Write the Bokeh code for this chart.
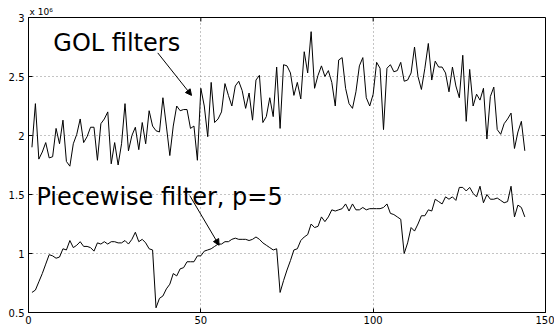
import math
from bokeh.plotting import figure
from bokeh.models import (Range1d, FixedTicker, Label, Arrow, NormalHead,
                          CustomJSTickFormatter)
from bokeh.embed import file_html
from bokeh.resources import INLINE

# ---------------- data (values in units of 10^6) ----------------
x_idx = list(range(1, 145))

gol_filters = [
    1.90, 2.27, 1.80, 1.86, 1.94, 1.81, 1.82, 2.06, 1.93, 2.13,
    1.78, 1.74, 1.93, 2.01, 2.14, 1.94, 1.99, 2.07, 2.07, 1.79,
    2.10, 2.14, 2.20, 1.76, 1.94, 1.75, 1.93, 2.27, 1.87, 2.00,
    2.07, 1.88, 2.11, 1.93, 2.21, 2.08, 2.04, 2.03, 2.32, 2.08,
    1.83, 2.08, 2.25, 2.21, 2.22, 2.22, 2.06, 2.08, 1.79, 2.40,
    2.25, 1.99, 2.45, 2.11, 2.14, 2.20, 2.44, 2.34, 2.25, 2.42,
    2.46, 2.38, 2.23, 2.36, 2.13, 2.47, 2.51, 2.11, 2.16, 2.32,
    2.16, 2.58, 2.06, 2.60, 2.59, 2.53, 2.34, 2.45, 2.31, 2.71,
    2.53, 2.88, 2.40, 2.51, 2.59, 2.50, 2.55, 2.45, 2.25, 2.64,
    2.66, 2.40, 2.27, 2.23, 2.37, 2.59, 2.66, 2.32, 2.25, 2.35,
    2.62, 2.57, 2.05, 2.57, 2.60, 2.54, 2.55, 2.62, 2.46, 2.47,
    2.53, 2.75, 2.50, 2.39, 2.57, 2.78, 2.47, 2.63, 2.58, 2.58,
    2.53, 2.37, 2.58, 2.42, 2.32, 2.68, 2.12, 2.56, 2.25, 2.35,
    2.30, 2.40, 1.97, 2.33, 2.41, 2.05, 2.01, 2.10, 2.14, 2.19,
    1.89, 2.03, 2.12, 1.87,
]

piecewise_p5 = [
    0.67, 0.69, 0.76, 0.83, 0.91, 0.99, 0.98, 0.96, 0.97, 1.04,
    1.03, 1.11, 1.05, 1.07, 1.10, 1.06, 1.06, 1.05, 1.02, 1.09,
    1.08, 1.10, 1.08, 1.10, 1.10, 1.09, 1.09, 1.11, 1.08, 1.12,
    1.18, 1.10, 1.12, 1.09, 1.04, 1.03, 0.54, 0.62, 0.64, 0.70,
    0.74, 0.83, 0.81, 0.87, 0.88, 0.93, 0.93, 0.93, 0.98, 0.98,
    1.02, 1.03, 1.04, 1.06, 1.08, 1.08, 1.10, 1.10, 1.12, 1.13,
    1.12, 1.12, 1.12, 1.11, 1.12, 1.14, 1.12, 1.09, 1.07, 1.05,
    1.03, 1.04, 0.67, 0.77, 0.86, 0.94, 1.03, 1.04, 1.11, 1.14,
    1.16, 1.25, 1.22, 1.23, 1.31, 1.27, 1.31, 1.37, 1.36, 1.37,
    1.38, 1.42, 1.36, 1.42, 1.37, 1.37, 1.39, 1.37, 1.38, 1.38,
    1.38, 1.38, 1.39, 1.42, 1.34, 1.33, 1.31, 1.29, 1.00, 1.09,
    1.22, 1.19, 1.25, 1.32, 1.32, 1.37, 1.36, 1.46, 1.44, 1.42,
    1.48, 1.46, 1.48, 1.45, 1.56, 1.56, 1.53, 1.56, 1.51, 1.48,
    1.57, 1.43, 1.50, 1.46, 1.46, 1.47, 1.45, 1.43, 1.44, 1.57,
    1.31, 1.41, 1.39, 1.31,
]

x_ticks = [0, 50, 100, 150]
y_ticks = [0.5, 1, 1.5, 2, 2.5, 3]
x_lo, x_hi = 0, 150
y_lo, y_hi = 0.5, 3

FONT = "DejaVu Sans"

p = figure(width=554, height=327, output_backend="svg", toolbar_location=None,
           x_range=Range1d(x_lo, x_hi), y_range=Range1d(y_lo, y_hi),
           min_border_left=28, min_border_right=9, min_border_top=17, min_border_bottom=15)
p.background_fill_color = "white"
p.border_fill_color = "white"
p.outline_line_color = "black"
p.outline_line_width = 1

# exponent note, as a left-aligned title just above the frame
p.title.text = "x 10\u2076"
p.title.align = "left"
p.title.offset = 1
p.title.standoff = 1
p.title.text_font = FONT
p.title.text_font_size = "9px"
p.title.text_font_style = "normal"
p.title.text_color = "black"

fmt = CustomJSTickFormatter(code="return tick.toString();")

for ax in (p.xaxis[0], p.yaxis[0]):
    ax.major_tick_in = 4
    ax.major_tick_out = 0
    ax.minor_tick_line_color = None
    ax.axis_line_color = "black"
    ax.major_label_text_font = FONT
    ax.major_label_text_font_size = "10px"
    ax.major_label_text_color = "black"
    ax.formatter = fmt
p.xaxis[0].ticker = FixedTicker(ticks=x_ticks)
p.yaxis[0].ticker = FixedTicker(ticks=y_ticks)
p.xaxis[0].major_label_standoff = 3
p.yaxis[0].major_label_standoff = 4

p.xgrid.ticker = FixedTicker(ticks=x_ticks)
p.ygrid.ticker = FixedTicker(ticks=y_ticks)
for g in (p.xgrid[0], p.ygrid[0]):
    g.grid_line_color = "#888888"
    g.grid_line_dash = "1 3"
    g.grid_line_width = 1

# mirrored inward ticks on the top and right edges of the box
p.ray(x=x_ticks, y=[y_hi] * len(x_ticks), length=4, length_units="screen",
      angle=-math.pi / 2, line_color="black", line_width=1)
p.ray(x=[x_hi] * len(y_ticks), y=y_ticks, length=4, length_units="screen",
      angle=math.pi, line_color="black", line_width=1)

p.line(x_idx, gol_filters, line_color="black", line_width=1)
p.line(x_idx, piecewise_p5, line_color="black", line_width=1)

p.add_layout(Label(x=7.2, y=2.78, text="GOL filters", text_font=FONT,
                   text_font_size="24px", text_color="black", text_baseline="alphabetic"))
p.add_layout(Label(x=2.3, y=1.475, text="Piecewise filter, p=5", text_font=FONT,
                   text_font_size="24px", text_color="black", text_baseline="alphabetic"))

p.add_layout(Arrow(end=NormalHead(size=6, fill_color="black", line_color="black"),
                   x_start=37.5, y_start=2.70, x_end=47.3, y_end=2.34,
                   line_color="black", line_width=1))
p.add_layout(Arrow(end=NormalHead(size=6, fill_color="black", line_color="black"),
                   x_start=46.8, y_start=1.49, x_end=55.3, y_end=1.07,
                   line_color="black", line_width=1))

open("out.html", "w").write(file_html(p, INLINE))
